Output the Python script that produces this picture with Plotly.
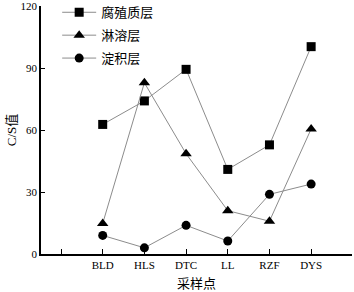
import plotly.graph_objects as go

categories = ["", "BLD", "HLS", "DTC", "LL", "RZF", "DYS"]
humus = [None, 62.8, 74.2, 89.5, 41.0, 52.9, 100.5]
leach = [None, 14.8, 83.0, 48.6, 21.0, 15.9, 60.6]
illuv = [None, 9.0, 3.0, 13.9, 6.3, 28.9, 33.9]
names = ["腐殖质层", "淋溶层", "淀积层"]
symbols = ["square", "triangle-up", "circle"]
yticks = [0, 30, 60, 90, 120]

xpos = list(range(len(categories)))
font_fam = "Liberation Serif, Times New Roman, Noto Sans CJK SC, serif"

fig = go.Figure()
for i, (name, vals, sym) in enumerate(zip(names, [humus, leach, illuv], symbols)):
    fig.add_trace(go.Scatter(
        x=xpos, y=vals, name=name, mode="lines+markers", legendgroup=f"g{i}",
        line=dict(color="#8c8c8c", width=1),
        marker=dict(symbol=sym, color="black", size=9 if sym != "triangle-up" else 10),
        connectgaps=False,
    ))

fig.update_layout(
    width=354, height=292,
    margin=dict(l=41, r=2, t=6, b=38, autoexpand=False),
    plot_bgcolor="white", paper_bgcolor="white",
    font=dict(family=font_fam, size=11, color="black"),
    showlegend=True,
    legend=dict(x=0.052, y=1.035, xanchor="left", yanchor="top",
                bgcolor="rgba(0,0,0,0)", font=dict(size=13, family=font_fam),
                tracegroupgap=3, itemwidth=34),
)
fig.update_xaxes(
    range=[-0.48, 6.98], tickmode="array", tickvals=xpos, ticktext=categories,
    showline=True, linecolor="black", linewidth=1.5, ticks="inside", ticklen=5,
    tickcolor="black", showgrid=False, zeroline=False,
    title=dict(text="采样点", font=dict(size=13), standoff=9),
)
fig.update_yaxes(
    range=[0, 120.2], tickvals=yticks, showline=True, linecolor="black", linewidth=1.5,
    ticks="inside", ticklen=4, tickcolor="black", showgrid=False, zeroline=False,
    title=dict(text="C/S值", font=dict(size=13), standoff=1),
)
fig.write_html("out.html", config={"displayModeBar": False},
               post_script="document.body.style.margin='0';document.body.style.padding='0';")
